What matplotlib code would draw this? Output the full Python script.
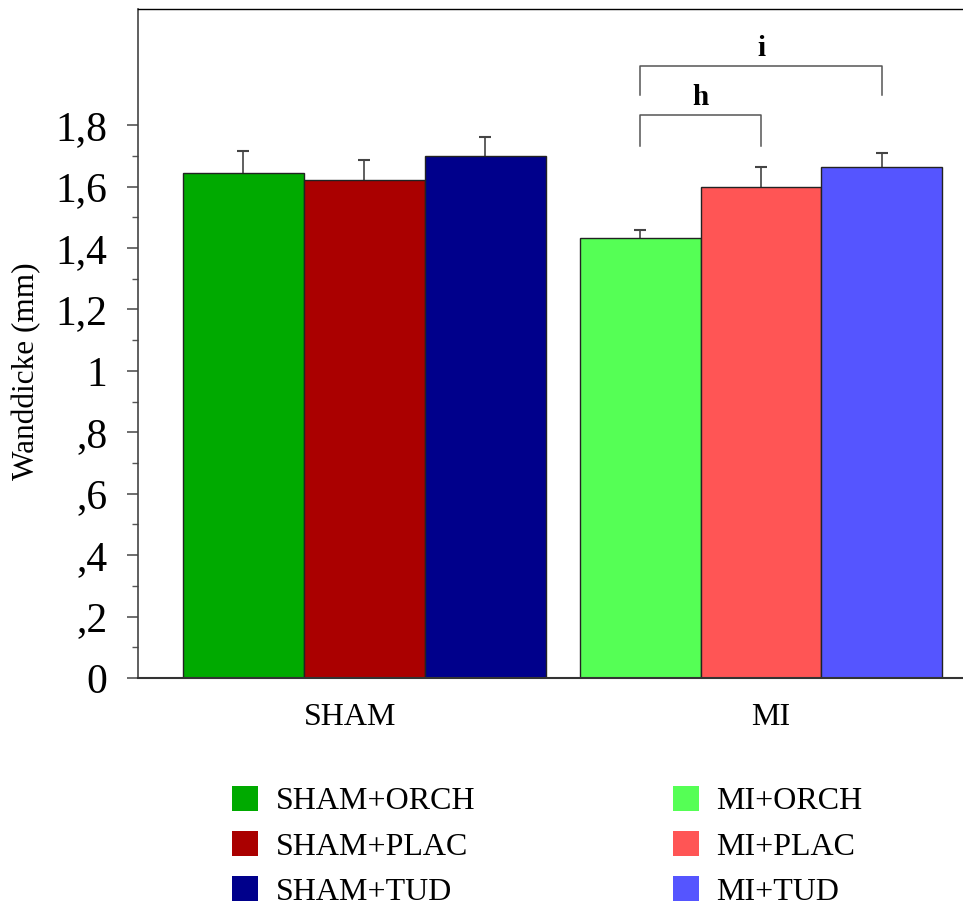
import matplotlib
matplotlib.use("Agg")
import matplotlib.pyplot as plt
from matplotlib.patches import Patch
from matplotlib.ticker import FixedLocator

plt.rcParams['font.family'] = ['Liberation Serif', 'DejaVu Serif']

# bar data (Wanddicke in mm, mean and SEM)
groups = ["SHAM", "MI"]
labels = ["SHAM+ORCH", "SHAM+PLAC", "SHAM+TUD", "MI+ORCH", "MI+PLAC", "MI+TUD"]
means = [1.643, 1.622, 1.699, 1.431, 1.599, 1.664]
sems = [0.073, 0.063, 0.062, 0.027, 0.065, 0.044]
colors = ["#00aa00", "#aa0000", "#00008b", "#55ff55", "#ff5555", "#5555ff"]
positions = [0, 1, 2, 3.28, 4.28, 5.28]
group_ticks = [0.88, 4.36]
ytick_labels = ["0", ",2", ",4", ",6", ",8", "1", "1,2", "1,4", "1,6", "1,8"]

# significance brackets: (left bar, right bar, line level, leg end, letter)
brackets = [(3, 4, 1.833, 1.732, "h"), (3, 5, 1.993, 1.898, "i")]

fig = plt.figure(figsize=(9.63, 9.08), dpi=100)
ax = fig.add_axes([138 / 963, 1 - 678 / 908, 1 - 138 / 963, (678 - 9) / 908])

ax.bar(positions, means, width=1.0, color=colors, edgecolor="#222222", linewidth=1.0, zorder=2)
eb = ax.errorbar(positions, means, yerr=[[0] * len(sems), sems], fmt="none",
                 ecolor="#444444", elinewidth=1.2, capsize=4.3, capthick=1.5, zorder=1)
eb[1][0].set_visible(False)  # no lower caps

for i1, i2, level, leg, letter in brackets:
    x1, x2 = positions[i1], positions[i2]
    ax.plot([x1, x1, x2, x2], [leg, level, level, leg], color="#555555", lw=1.1)
    ax.text((x1 + x2) / 2, level + 0.012, letter, ha="center", va="bottom",
            fontsize=21, fontweight="bold")

ax.set_xlim(-0.87, 5.95)
ax.set_ylim(0, 2.178)
yticks = [i * 0.2 for i in range(len(ytick_labels))]
ax.set_yticks(yticks)
ax.set_yticklabels(ytick_labels, fontsize=30)
ax.yaxis.set_minor_locator(FixedLocator([t + 0.1 for t in yticks[:-1]]))
ax.tick_params(axis="y", which="major", length=8, width=1.2, color="#555555", pad=14)
ax.tick_params(axis="y", which="minor", length=4.3, width=1.0, color="#555555")
ax.set_xticks(group_ticks)
ax.set_xticklabels(groups, fontsize=23)
ax.tick_params(axis="x", length=0, pad=18)
ax.set_ylabel("Wanddicke (mm)", fontsize=22.5)
ax.yaxis.set_label_coords(-0.117, 0.459)

ax.spines["right"].set_visible(False)
ax.spines["left"].set_color("#444444")
ax.spines["left"].set_linewidth(1.2)
ax.spines["bottom"].set_color("#333333")
ax.spines["bottom"].set_linewidth(1.5)
ax.spines["top"].set_color("black")
ax.spines["top"].set_linewidth(1.0)

handles = [Patch(facecolor=c, edgecolor="none", label=l) for c, l in zip(colors, labels)]
fig.legend(handles=handles, ncol=2, loc="upper left",
           bbox_to_anchor=(232 / 963, 1 - 786 / 908), frameon=False, fontsize=23,
           handlelength=0.81, handleheight=0.81, handletextpad=0.55,
           labelspacing=0.46, columnspacing=6.2, borderpad=0, borderaxespad=0)

fig.savefig("out.png", dpi=100)
